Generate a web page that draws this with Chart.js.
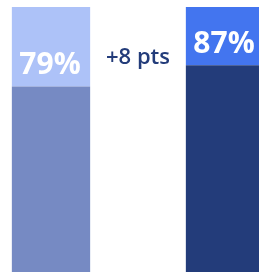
<!DOCTYPE html>
<html>
<head>
<meta charset="utf-8">
<script src="https://cdn.jsdelivr.net/npm/chart.js@4/dist/chart.umd.min.js"></script>
<style>
  html, body { margin: 0; padding: 0; background: #ffffff; overflow: hidden; }
  #wrap { position: relative; width: 270px; height: 273px; }
</style>
</head>
<body>
<div id="wrap"><canvas id="c"></canvas></div>
<script>
const categories = ["Before", "", "After"];
const baseValues = [70, null, 78];
const topValues = [30, null, 22];
const valueLabels = ["79%", "", "87%"];
const deltaLabel = "+8 pts";

const labelPlugin = {
  id: 'labels',
  afterDatasetsDraw(chart) {
    const ctx = chart.ctx;
    const meta = chart.getDatasetMeta(0);
    const xs = chart.scales.x;
    ctx.save();
    ctx.textAlign = 'center';
    ctx.textBaseline = 'middle';
    ctx.fillStyle = '#ffffff';
    ctx.font = 'bold 30px "Open Sans"';
    meta.data.forEach((el, i) => {
      if (!valueLabels[i]) return;
      ctx.fillText(valueLabels[i], el.x - 1, el.y - 21);
    });
    ctx.fillStyle = '#233c7a';
    ctx.font = '600 22px "Open Sans"';
    ctx.fillText(deltaLabel, xs.getPixelForValue(1), 58);
    ctx.restore();
  }
};

new Chart(document.getElementById('c'), {
  type: 'bar',
  data: {
    labels: categories,
    datasets: [
      { data: baseValues, backgroundColor: ['#768ac3', '#ffffff', '#233c7a'], borderWidth: 0 },
      { data: topValues, backgroundColor: ['#adc2f8', '#ffffff', '#4375ef'], borderWidth: 0 }
    ]
  },
  options: {
    responsive: true,
    maintainAspectRatio: false,
    animation: false,
    layout: { padding: { left: 7.5, right: 1.5, top: 7, bottom: 1 } },
    datasets: { bar: { categoryPercentage: 1, barPercentage: 0.9 } },
    plugins: { legend: { display: false }, tooltip: { enabled: false } },
    scales: {
      x: { stacked: true, display: false },
      y: { stacked: true, display: false, min: 0, max: 100 }
    }
  },
  plugins: [labelPlugin]
});
</script>
</body>
</html>
